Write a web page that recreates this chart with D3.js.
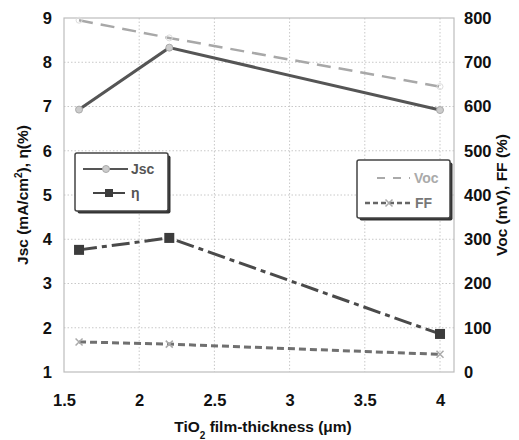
<!DOCTYPE html>
<html>
<head>
<meta charset="utf-8">
<script src="https://cdn.jsdelivr.net/npm/d3@7"></script>
<style>
body { margin: 0; background: #fff; }
text { font-family: "Liberation Sans", Arial, sans-serif; font-weight: bold; }
</style>
</head>
<body>
<script>
// data
const thickness = [1.6, 2.2, 4];
const jsc = [6.93, 8.33, 6.92];     // mA/cm2, left axis
const eta = [3.76, 4.03, 1.86];     // %, left axis
const voc = [795, 755, 645];        // mV, right axis
const ff = [68, 63, 40];            // %, right axis
const xTicks = [1.5, 2, 2.5, 3, 3.5, 4];
const leftTicks = [1, 2, 3, 4, 5, 6, 7, 8, 9];
const rightTicks = [0, 100, 200, 300, 400, 500, 600, 700, 800];

const width = 519, height = 440;
const m = {left: 64, right: 65, top: 18, bottom: 68};

const svg = d3.select('body').append('svg')
    .attr('width', width)
    .attr('height', height);

const x = d3.scaleLinear().domain([1.5, 4.093]).range([m.left, width - m.right]);
const yL = d3.scaleLinear().domain([1, 9]).range([height - m.bottom, m.top]);
const yR = d3.scaleLinear().domain([0, 800]).range([height - m.bottom, m.top]);

// grid
svg.append('g').selectAll('line').data(leftTicks.slice(1, -1)).join('line')
    .attr('x1', m.left).attr('x2', width - m.right)
    .attr('y1', d => yL(d)).attr('y2', d => yL(d))
    .attr('stroke', '#c8c8c8').attr('stroke-dasharray', '1.5,2');
svg.append('g').selectAll('line').data(xTicks.slice(1)).join('line')
    .attr('x1', d => x(d)).attr('x2', d => x(d))
    .attr('y1', m.top).attr('y2', height - m.bottom)
    .attr('stroke', '#c8c8c8').attr('stroke-dasharray', '1.5,2');

// frame
svg.append('rect')
    .attr('x', m.left).attr('y', m.top)
    .attr('width', width - m.right - m.left).attr('height', height - m.bottom - m.top)
    .attr('fill', 'none').attr('stroke', '#bdbdbd').attr('stroke-width', 1.2);

// axes
const axL = svg.append('g').attr('transform', `translate(${m.left},0)`)
    .call(d3.axisLeft(yL).tickValues(leftTicks).tickSize(0).tickPadding(12));
const axR = svg.append('g').attr('transform', `translate(${width - m.right},0)`)
    .call(d3.axisRight(yR).tickValues(rightTicks).tickSize(0).tickPadding(10));
const axB = svg.append('g').attr('transform', `translate(0,${height - m.bottom})`)
    .call(d3.axisBottom(x).tickValues(xTicks).tickSize(0).tickPadding(22));
[axL, axR, axB].forEach(a => {
    a.select('.domain').remove();
    a.selectAll('text').attr('font-size', 16.5).attr('fill', '#111')
        .style('font-family', '"Liberation Sans", Arial, sans-serif').style('font-weight', 'bold');
});
axB.selectAll('text').text(d => d);

// titles
svg.append('text')
    .attr('transform', `translate(28,${(m.top + height - m.bottom) / 2}) rotate(-90)`)
    .attr('text-anchor', 'middle').attr('font-size', 15.5).attr('fill', '#111')
    .html('Jsc (mA/cm<tspan dy="-6" font-size="10">2</tspan><tspan dy="6">), η(%)</tspan>');
svg.append('text')
    .attr('transform', `translate(507,${(m.top + height - m.bottom) / 2}) rotate(-90)`)
    .attr('text-anchor', 'middle').attr('font-size', 15.5).attr('fill', '#111')
    .text('Voc (mV), FF (%)');
svg.append('text')
    .attr('x', (m.left + width - m.right) / 2 + 4).attr('y', 432)
    .attr('text-anchor', 'middle').attr('font-size', 15.5).attr('fill', '#111')
    .html('TiO<tspan dy="7" font-size="10">2</tspan><tspan dy="-7"> film-thickness (μm)</tspan>');

// series
const series = [
    {vals: voc, y: yR, color: '#a8a8a8', dash: '14,8', width: 2.5, marker: 'faint'},
    {vals: jsc, y: yL, color: '#555', dash: null, width: 3, marker: 'circle'},
    {vals: eta, y: yL, color: '#4a4a4a', dash: '18,5,5,5', width: 3, marker: 'square'},
    {vals: ff, y: yR, color: '#707070', dash: '7,4', width: 3, marker: 'x'}
];

function drawMarker(g, kind, cx, cy) {
    if (kind === 'circle') {
        g.append('circle').attr('cx', cx).attr('cy', cy).attr('r', 3.5)
            .attr('fill', '#ccc').attr('stroke', '#aaa').attr('stroke-width', 1);
    } else if (kind === 'faint') {
        g.append('circle').attr('cx', cx).attr('cy', cy).attr('r', 3)
            .attr('fill', 'none').attr('stroke', '#ddd').attr('stroke-width', 1);
    } else if (kind === 'square') {
        g.append('rect').attr('x', cx - 5).attr('y', cy - 5).attr('width', 10).attr('height', 10)
            .attr('fill', '#3c3c3c');
    } else {
        g.append('path').attr('d', `M${cx - 3.5},${cy - 3.5}L${cx + 3.5},${cy + 3.5}M${cx - 3.5},${cy + 3.5}L${cx + 3.5},${cy - 3.5}`)
            .attr('stroke', '#aaa').attr('stroke-width', 1.5);
    }
}

series.forEach(s => {
    const line = d3.line().x((d, i) => x(thickness[i])).y(d => s.y(d));
    svg.append('path').datum(s.vals)
        .attr('d', line)
        .attr('fill', 'none')
        .attr('stroke', s.color)
        .attr('stroke-width', s.width)
        .attr('stroke-dasharray', s.dash);
    const g = svg.append('g');
    s.vals.forEach((v, i) => drawMarker(g, s.marker, x(thickness[i]), s.y(v)));
});

// legends
function legendBox(x0, y0, w, h) {
    svg.append('rect').attr('x', x0 + 2.5).attr('y', y0 + 2.5).attr('width', w).attr('height', h)
        .attr('fill', '#333').attr('rx', 2);
    svg.append('rect').attr('x', x0).attr('y', y0).attr('width', w).attr('height', h)
        .attr('fill', '#fff').attr('stroke', '#444').attr('stroke-width', 1.5).attr('rx', 2);
}

legendBox(75, 153, 93, 58);
svg.append('line').attr('x1', 83).attr('x2', 128).attr('y1', 169).attr('y2', 169)
    .attr('stroke', '#555').attr('stroke-width', 2);
drawMarker(svg, 'circle', 106, 169);
svg.append('text').attr('x', 131).attr('y', 174).attr('font-size', 14).attr('fill', '#555').text('Jsc');
svg.append('line').attr('x1', 93).attr('x2', 125).attr('y1', 193).attr('y2', 193)
    .attr('stroke', '#444').attr('stroke-width', 2);
svg.append('rect').attr('x', 105).attr('y', 189).attr('width', 8).attr('height', 8).attr('fill', '#3c3c3c');
svg.append('text').attr('x', 131).attr('y', 198).attr('font-size', 14).attr('fill', '#555').text('η');

legendBox(357, 160, 93, 58);
svg.append('line').attr('x1', 377).attr('x2', 410).attr('y1', 178).attr('y2', 178)
    .attr('stroke', '#aaa').attr('stroke-width', 2).attr('stroke-dasharray', '8,8');
svg.append('text').attr('x', 414).attr('y', 183).attr('font-size', 14).attr('fill', '#aaa').text('Voc');
svg.append('line').attr('x1', 365).attr('x2', 413).attr('y1', 203).attr('y2', 203)
    .attr('stroke', '#666').attr('stroke-width', 2.5).attr('stroke-dasharray', '5,3');
drawMarker(svg, 'x', 389, 203);
svg.append('text').attr('x', 415).attr('y', 208).attr('font-size', 14).attr('fill', '#777').text('FF');
</script>
</body>
</html>
